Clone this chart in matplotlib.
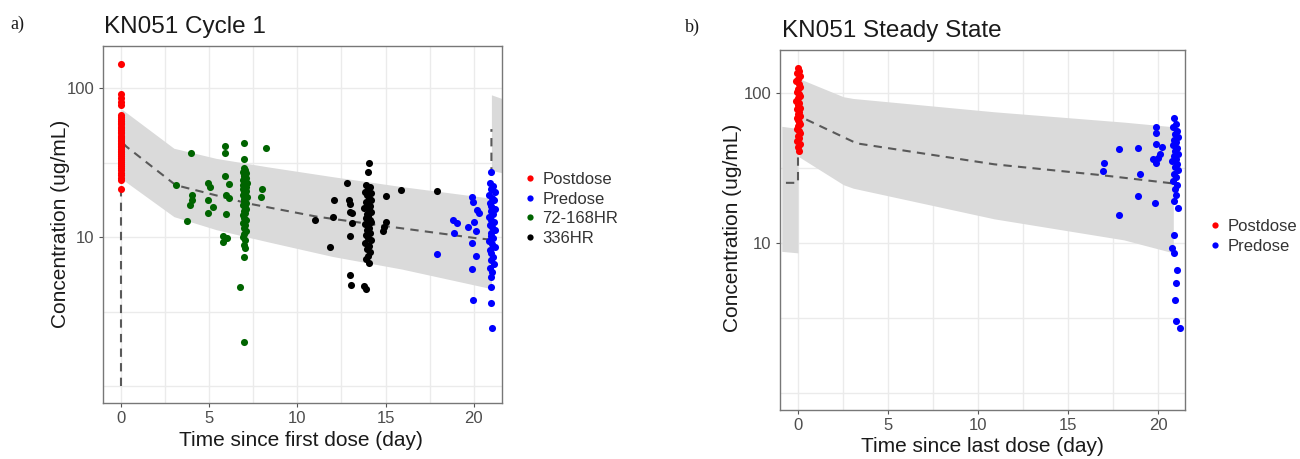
import numpy as np
import matplotlib
matplotlib.use("Agg")
import matplotlib.pyplot as plt
from matplotlib.lines import Line2D

plt.rcParams['font.family'] = ['Liberation Sans', 'DejaVu Sans']

# ---------------- Panel a) KN051 Cycle 1 ----------------
c1_post_time = [0.0] * 42
c1_post_conc = [145, 91, 86, 81, 77, 66, 64, 62, 60, 58, 57, 55, 54, 52, 51, 50, 48, 47,
                46, 45, 44, 43, 42, 41, 40, 39, 38, 37, 36, 35, 34, 33, 32, 31, 30, 29,
                28, 27, 26, 25, 24, 21]

c1_pre_time = [19.9, 19.98, 20.2, 20.3, 20.0, 19.7, 20.1, 18.8, 19.03, 18.9, 19.9, 20.1,
               19.9, 17.9, 19.98, 20.97, 21.06, 21.0, 20.95,
               20.9, 21.1, 20.95, 21.2, 20.85, 21.05, 21.15, 20.9, 21.0, 21.2, 20.95, 21.1,
               20.85, 21.0, 21.15, 20.9, 21.05, 21.2, 20.95, 21.0, 21.1, 20.85, 21.05, 21.2,
               20.9, 21.0, 21.1, 20.95, 21.15, 20.9, 21.05, 21.0]
c1_pre_conc = [18.5, 17.3, 15.2, 14.4, 12.7, 11.7, 10.9, 13.0, 12.5, 10.7, 9.1, 7.45,
               6.07, 7.7, 3.78, 3.59, 2.44, 27.4, 4.6,
               23, 22, 21, 20, 19.2, 18.4, 17.6, 16.9, 16.2, 15.5, 14.9, 14.3,
               13.7, 13.1, 12.6, 12.1, 11.6, 11.1, 10.6, 10.2, 9.8, 9.4, 9.0, 8.6,
               8.2, 7.8, 7.4, 7.0, 6.6, 6.2, 5.8, 5.4]

c1_72_time = [3.96, 5.87, 5.87, 6.99, 8.24, 6.99, 3.1, 4.96, 5.06, 5.87, 6.1, 4.0, 4.0,
              3.9, 4.96, 5.19, 4.92, 5.95, 6.14, 5.95, 3.77, 8.0, 7.94, 5.8, 6.0, 5.8,
              6.76, 7.0, 6.95, 7.05, 7.0,
              6.95, 7.05, 6.9, 7.1, 7.0, 6.95, 7.08, 6.92, 7.02, 7.12, 6.9, 7.0, 7.06,
              6.94, 7.1, 6.98, 7.04, 6.9, 7.12, 7.0, 6.95, 7.07, 6.92, 7.02, 7.1, 6.97,
              7.05, 6.9, 7.0, 7.08, 6.94, 7.03, 6.96, 7.1, 7.0, 6.93, 7.05]
c1_72_conc = [36.5, 40.8, 36.8, 42.6, 39.7, 33.2, 22.3, 22.9, 21.8, 25.6, 22.7, 19.1, 17.7,
              16.4, 17.7, 15.8, 14.6, 19.1, 18.2, 14.3, 12.9, 21.0, 18.6, 10.2, 9.8, 9.2,
              4.6, 1.98, 8.8, 8.4, 7.4,
              29, 28, 27.5, 27, 26, 25.5, 25, 24, 23.5, 23, 22.5, 22, 21.5,
              21, 20.5, 20, 19.5, 19, 18.5, 18, 17.5, 17, 16.5, 16, 15.5, 15,
              14.5, 14, 13.5, 13, 12.5, 12, 11.5, 11, 10.5, 10, 9.5]

c1_336_time = [14.05, 14.0, 12.82, 12.06, 12.9, 15.0, 15.9, 13.0, 13.1, 12.0, 11.0, 13.07,
               13.0, 11.83, 15.0, 14.9, 14.87, 13.0, 13.05, 13.8, 13.9, 17.94, 13.0,
               13.9, 14.1, 14.0, 13.85, 14.15, 13.95, 14.05, 14.2, 13.9, 14.0, 14.1, 13.8,
               14.05, 14.15, 13.95, 14.0, 13.9, 14.1, 14.2, 13.85, 14.0, 14.05, 13.95,
               14.1, 13.9, 14.0, 14.15, 13.85, 14.05, 13.95, 14.1, 14.0, 13.9, 14.05]
c1_336_conc = [31.2, 27.2, 22.9, 17.7, 17.7, 18.9, 20.6, 14.8, 14.4, 13.7, 13.0, 12.4,
               10.2, 8.6, 12.7, 11.6, 10.9, 5.56, 4.77, 4.7, 4.5, 20.4, 16.7,
               22.3, 21.5, 21, 20.2, 19.6, 19, 18.4, 17.8, 17.2, 16.7, 16.2, 15.7,
               15.2, 14.8, 14.3, 13.9, 13.5, 13.1, 12.7, 12.3, 11.9, 11.5, 11.1,
               10.7, 10.3, 9.9, 9.5, 9.1, 8.7, 8.3, 7.9, 7.5, 7.1, 6.7]

# model prediction (median and interval), cycle 1
c1_band_time = [0.05, 3.0, 5.4, 8.3, 12.0, 15.9, 21.0]
c1_band_hi = [72, 39.4, 33.7, 29.6, 25.4, 21.8, 18.2]
c1_band_lo = [24.5, 13.7, 11.2, 9.3, 7.4, 6.1, 4.5]
c1_band2_time = [21.0, 21.6]
c1_band2_hi = [90, 85]
c1_band2_lo = [28, 27]
c1_med_time = [0.0, 0.0, 0.3, 3.1, 7.2, 11.1, 15.3, 20.2, 21.0, 21.0]
c1_med_conc = [1.0, 44, 40.5, 22.3, 16.8, 13.7, 11.7, 9.8, 9.6, 53]

# ---------------- Panel b) KN051 Steady State ----------------
ss_post_time = [0.0, 0.05, -0.05, 0.1, 0.0, -0.1, 0.05, 0.1, 0.0, -0.05, 0.05, 0.1, 0.0,
                -0.1, 0.05, 0.0, 0.1, -0.05, 0.05, 0.0, 0.1, -0.05, 0.0, 0.05, 0.1, 0.0,
                -0.05, 0.05, 0.1, 0.0, 0.05, -0.05, 0.1, 0.0, 0.05]
ss_post_conc = [146, 140, 135, 130, 125, 120, 115, 110, 106, 102, 98, 95, 92, 89, 86, 83,
                80, 78, 75, 72, 70, 68, 66, 64, 62, 60, 58, 56, 54, 52, 50, 48, 46, 44, 41]

ss_pre_time = [17.85, 18.9, 17.0, 16.93, 19.0, 18.9, 17.85, 19.83, 19.9, 19.9, 19.87, 20.2,
               20.1, 20.0, 19.7, 19.9, 20.9, 20.8, 20.9, 21.07, 21.0, 20.94, 21.0, 21.2,
               20.9, 21.0, 20.85, 21.05, 20.95, 21.1, 20.9, 21.0, 20.85, 21.05, 20.95,
               21.1, 20.9, 21.0, 20.8, 21.05, 20.95, 21.1, 20.9, 21.0, 20.85, 21.05, 20.95,
               21.0, 20.9, 21.1]
ss_pre_conc = [42.2, 43.2, 34, 30.3, 28.8, 20.6, 15.5, 18.4, 59, 53.8, 45.7, 43.9,
               39.2, 36.7, 36.1, 34.3, 11.3, 9.3, 8.6, 6.6, 5.4, 4.17, 3.02, 2.72,
               67.8, 62, 59, 56, 53.5, 51, 49, 47, 45, 43, 41,
               39.5, 38, 36.5, 35, 33.5, 32, 30.5, 29, 27.5, 26, 24.5, 23,
               21, 19, 17]

ss_band_pre_time = [-0.9, 0.0]
ss_band_pre_hi = [60, 58]
ss_band_pre_lo = [8.8, 8.6]
ss_band_time = [0.05, 2.52, 3.07, 10.9, 18.1, 20.85]
ss_band_hi = [125, 94.5, 92, 75, 64, 59.6]
ss_band_lo = [37.6, 24.5, 23.2, 14.5, 10.5, 8.6]
ss_med_time = [-0.67, 0.0, 0.0, 0.2, 3.26, 10.9, 16.8, 20.8]
ss_med_conc = [25.2, 25.2, 70, 68.9, 46.2, 33.5, 28.4, 25.0]

W, H = 1300, 459
fig = plt.figure(figsize=(W / 100, H / 100), dpi=100)

grey_txt = '#4d4d4d'
grid_c = '#ebebeb'
band_c = '#dadada'
med_c = '#595959'


def style_axes(ax, xlim, ylim):
    ax.set_yscale('log')
    ax.set_xlim(*xlim)
    ax.set_ylim(*ylim)
    ax.set_xticks([0, 5, 10, 15, 20])
    ax.set_xticks([2.5, 7.5, 12.5, 17.5], minor=True)
    ax.set_yticks([10, 100])
    ax.set_yticklabels(['10', '100'])
    ax.set_yticks([1, 10 ** 0.5, 10 ** 1.5], minor=True)
    ax.yaxis.set_minor_formatter(matplotlib.ticker.NullFormatter())
    ax.grid(True, which='both', color=grid_c, lw=1.0, zorder=0)
    ax.set_axisbelow(True)
    ax.tick_params(which='major', length=3, color='#555555', labelcolor=grey_txt,
                   labelsize=12, pad=3)
    ax.tick_params(which='minor', length=0)
    for s in ax.spines.values():
        s.set_color('#777777')
        s.set_linewidth(1.0)


# left panel
axL = fig.add_axes([103 / W, 1 - 403 / H, (502 - 103) / W, (403 - 46) / H])
style_axes(axL, (-1.02, 21.6), (10 ** -0.114, 10 ** 2.282))
axL.fill_between(c1_band_time, c1_band_lo, c1_band_hi, color=band_c, lw=0, zorder=1)
axL.fill_between(c1_band2_time, c1_band2_lo, c1_band2_hi, color=band_c, lw=0, zorder=1)
axL.plot(c1_med_time, c1_med_conc, color=med_c, lw=1.5, ls=(0, (4, 3)), zorder=2)
ms = 26
axL.scatter(c1_post_time, c1_post_conc, s=ms, color='#ff0000', lw=0, zorder=3)
axL.scatter(c1_pre_time, c1_pre_conc, s=ms, color='#0000ff', lw=0, zorder=3)
axL.scatter(c1_72_time, c1_72_conc, s=ms, color='#006400', lw=0, zorder=3)
axL.scatter(c1_336_time, c1_336_conc, s=ms, color='#000000', lw=0, zorder=3)
fig.text(301 / W, 1 - 440 / H, 'Time since first dose (day)', ha='center', va='center',
         fontsize=15, color='#1a1a1a')
fig.text(60 / W, 1 - 224 / H, 'Concentration (ug/mL)', ha='center', va='center',
         rotation=90, fontsize=15, color='#1a1a1a')
fig.text(104 / W, 1 - 27 / H, 'KN051 Cycle 1', ha='left', va='center', fontsize=17.5,
         color='#1a1a1a')
fig.text(10 / W, 1 - 24 / H, 'a)', ha='left', va='center', fontsize=13,
         family=['Liberation Serif', 'DejaVu Serif'], color='#1a1a1a')

# right panel
axR = fig.add_axes([780 / W, 1 - 410 / H, (1185 - 780) / W, (410 - 50) / H])
style_axes(axR, (-1.0, 21.5), (10 ** -0.113, 10 ** 2.287))
axR.fill_between(ss_band_pre_time, ss_band_pre_lo, ss_band_pre_hi, color=band_c, lw=0, zorder=1)
axR.fill_between(ss_band_time, ss_band_lo, ss_band_hi, color=band_c, lw=0, zorder=1)
axR.plot(ss_med_time, ss_med_conc, color=med_c, lw=1.5, ls=(0, (4, 3)), zorder=2)
axR.scatter(ss_post_time, ss_post_conc, s=ms, color='#ff0000', lw=0, zorder=3)
axR.scatter(ss_pre_time, ss_pre_conc, s=ms, color='#0000ff', lw=0, zorder=3)
fig.text(982 / W, 1 - 446 / H, 'Time since last dose (day)', ha='center', va='center',
         fontsize=15, color='#1a1a1a')
fig.text(733 / W, 1 - 228 / H, 'Concentration (ug/mL)', ha='center', va='center',
         rotation=90, fontsize=15, color='#1a1a1a')
fig.text(782 / W, 1 - 31 / H, 'KN051 Steady State', ha='left', va='center', fontsize=17.5,
         color='#1a1a1a')
fig.text(685 / W, 1 - 27 / H, 'b)', ha='left', va='center', fontsize=13,
         family=['Liberation Serif', 'DejaVu Serif'], color='#1a1a1a')


def mk(c):
    return Line2D([], [], ls='none', marker='o', markersize=4.5, markerfacecolor=c,
                  markeredgewidth=0)


legL = fig.legend([mk('#ff0000'), mk('#0000ff'), mk('#006400'), mk('#000000')],
                  ['Postdose', 'Predose', '72-168HR', '336HR'],
                  loc='upper left', bbox_to_anchor=(524 / W, 1 - 172 / H), frameon=False,
                  fontsize=12, handlelength=0.7, handletextpad=0.4, labelspacing=0.28,
                  borderpad=0, borderaxespad=0)
for t in legL.get_texts():
    t.set_color('#333333')
legR = fig.legend([mk('#ff0000'), mk('#0000ff')], ['Postdose', 'Predose'],
                  loc='upper left', bbox_to_anchor=(1209 / W, 1 - 219 / H), frameon=False,
                  fontsize=12, handlelength=0.7, handletextpad=0.4, labelspacing=0.28,
                  borderpad=0, borderaxespad=0)
for t in legR.get_texts():
    t.set_color('#333333')

fig.savefig('out.png', dpi=100)
